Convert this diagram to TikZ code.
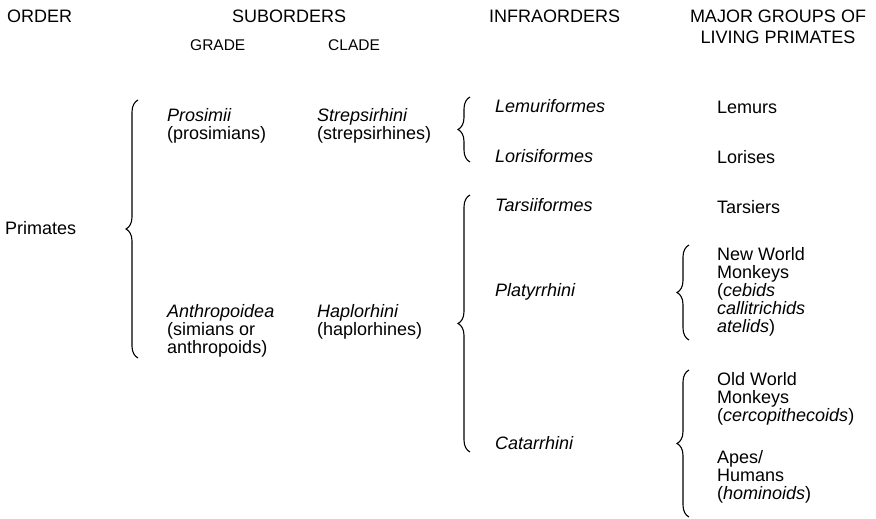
\documentclass[tikz,border=0pt]{standalone}
\usepackage{fontspec}
\setmainfont{Liberation Sans}
\usetikzlibrary{positioning}
\usetikzlibrary{decorations.pathreplacing}

\newcommand{\headfont}{\fontsize{18}{21}\selectfont}
\newcommand{\subfont}{\fontsize{15.5}{18}\selectfont}
\newcommand{\bodyfont}{\fontsize{18}{18}\selectfont}

\begin{document}
\begin{tikzpicture}[x=1pt, y=-1pt,
  head/.style={anchor=west, inner sep=0pt, font=\headfont},
  txt/.style={anchor=west, inner sep=0pt, align=left, font=\bodyfont},
  grp/.style={decorate, decoration={brace, amplitude=12pt}, line width=1.1pt}]
  \useasboundingbox (0,0) rectangle (876,519);

  % column heads
  \node[head] (order) at (7,16) {ORDER};
  \node[head] (subord) at (232,16) {SUBORDERS};
  \node[head, font=\subfont] (grade) at (190,45) {GRADE};
  \node[head, font=\subfont] (clade) at (328,45) {CLADE};
  \node[head] (infra) at (489,16) {INFRAORDERS};
  \node[head, anchor=center, align=center] (major) at (778,27) {MAJOR GROUPS OF\\LIVING PRIMATES};

  % order
  \node[txt] (primates) at (5,228) {Primates};
  \coordinate (b1top) at (138,100);
  \coordinate (b1bot) at (138,358);
  \draw[grp] (b1bot) -- (b1top);

  % suborders
  \node[txt] (prosimii) at (167,126) {\textit{Prosimii}\\(prosimians)};
  \node[txt] (strep) at (317,126) {\textit{Strepsirhini}\\(strepsirhines)};
  \node[txt] (anthro) at (167,331) {\textit{Anthropoidea}\\(simians or\\anthropoids)};
  \node[txt] (haplo) at (317,322) {\textit{Haplorhini}\\(haplorhines)};

  % infraorders
  \coordinate (b2top) at (470,97);
  \coordinate (b2bot) at (470,162);
  \draw[grp] (b2bot) -- (b2top);
  \node[txt] (lemurif) at (495,106) {\textit{Lemuriformes}};
  \node[txt] (lorisif) at (495,156) {\textit{Lorisiformes}};

  \coordinate (b3top) at (470,195);
  \coordinate (b3bot) at (470,452);
  \draw[grp] (b3bot) -- (b3top);
  \node[txt] (tarsiif) at (495,205) {\textit{Tarsiiformes}};
  \node[txt] (platy) at (495,292) {\textit{Platyrrhini}};
  \node[txt] (catar) at (495,443) {\textit{Catarrhini}};

  % major groups
  \node[txt] (lemurs) at (717,107) {Lemurs};
  \node[txt] (lorises) at (717,157) {Lorises};
  \node[txt] (tarsiers) at (717,207) {Tarsiers};

  \coordinate (b4top) at (689,245);
  \coordinate (b4bot) at (689,340);
  \draw[grp] (b4bot) -- (b4top);
  \node[txt] (nwm) at (717,292) {New World\\Monkeys\\(\textit{cebids}\\\textit{callitrichids}\\\textit{atelids})};

  \coordinate (b5top) at (689,370);
  \coordinate (b5bot) at (689,517);
  \draw[grp] (b5bot) -- (b5top);
  \node[txt] (owm) at (717,399) {Old World\\Monkeys\\(\textit{cercopithecoids})};
  \node[txt] (apes) at (717,477) {Apes/\\Humans\\(\textit{hominoids})};
\end{tikzpicture}
\end{document}
